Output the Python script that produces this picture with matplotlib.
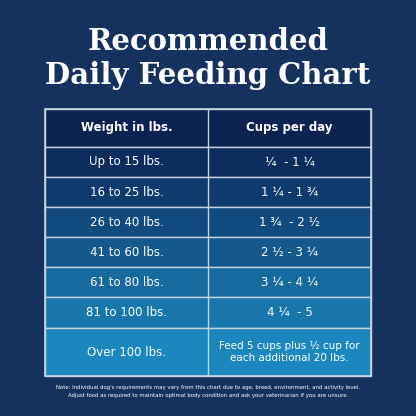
import matplotlib.pyplot as plt
from matplotlib.patches import Rectangle

weights = ["Up to 15 lbs.", "16 to 25 lbs.", "26 to 40 lbs.", "41 to 60 lbs.",
           "61 to 80 lbs.", "81 to 100 lbs.", "Over 100 lbs."]
cups = ["¼  - 1 ¼", "1 ¼ - 1 ¾", "1 ¾  - 2 ½", "2 ½ - 3 ¼", "3 ¼ - 4 ¼", "4 ¼  - 5",
        "Feed 5 cups plus ½ cup for\neach additional 20 lbs."]
headers = ["Weight in lbs.", "Cups per day"]
row_colors = ["#0d2c5e", "#0f3a6e", "#114a7e", "#13598e", "#166a9f", "#1876ad", "#1c86bf"]

fig = plt.figure(figsize=(4.16, 4.16), dpi=100)
fig.patch.set_facecolor("#15325f")
ax = fig.add_axes([0, 0, 1, 1])
ax.set_xlim(0, 416)
ax.set_ylim(416, 0)
ax.axis("off")

ax.text(208, 41, "Recommended", ha="center", va="center", color="white",
        fontsize=21, fontweight="bold", family="DejaVu Serif")
ax.text(208, 75, "Daily Feeding Chart", ha="center", va="center", color="white",
        fontsize=21, fontweight="bold", family="DejaVu Serif")

x0, xm, x1 = 45, 208, 371
tops = [109, 147, 177, 207, 237, 267, 297, 328, 376]
ax.add_patch(Rectangle((x0, tops[0]), x1 - x0, tops[1] - tops[0], facecolor="#0b2350", edgecolor="#c8d3e0", lw=1))
for i, h in enumerate(headers):
    ax.text((x0 + xm) / 2 if i == 0 else (xm + x1) / 2, (tops[0] + tops[1]) / 2, h,
            ha="center", va="center", color="white", fontsize=8.5, fontweight="bold")
for r in range(len(weights)):
    y0, y1 = tops[r + 1], tops[r + 2]
    ax.add_patch(Rectangle((x0, y0), x1 - x0, y1 - y0, facecolor=row_colors[r], edgecolor="#c8d3e0", lw=1))
    ax.text((x0 + xm) / 2, (y0 + y1) / 2, weights[r], ha="center", va="center", color="white", fontsize=8.5)
    ax.text((xm + x1) / 2, (y0 + y1) / 2, cups[r], ha="center", va="center", color="white",
            fontsize=8.5 if r < 6 else 7.5, linespacing=1.3)
ax.plot([xm, xm], [tops[0], tops[-1]], color="#c8d3e0", lw=1)
ax.add_patch(Rectangle((x0, tops[0]), x1 - x0, tops[-1] - tops[0], fill=False, edgecolor="#c8d3e0", lw=1.2))

ax.text(208, 387, "Note: Individual dog's requirements may vary from this chart due to age, breed, environment, and activity level.",
        ha="center", va="center", color="white", fontsize=3.9)
ax.text(208, 396, "Adjust food as required to maintain optimal body condition and ask your veterinarian if you are unsure.",
        ha="center", va="center", color="white", fontsize=3.9)

fig.savefig("out.png", dpi=100, facecolor=fig.get_facecolor())
